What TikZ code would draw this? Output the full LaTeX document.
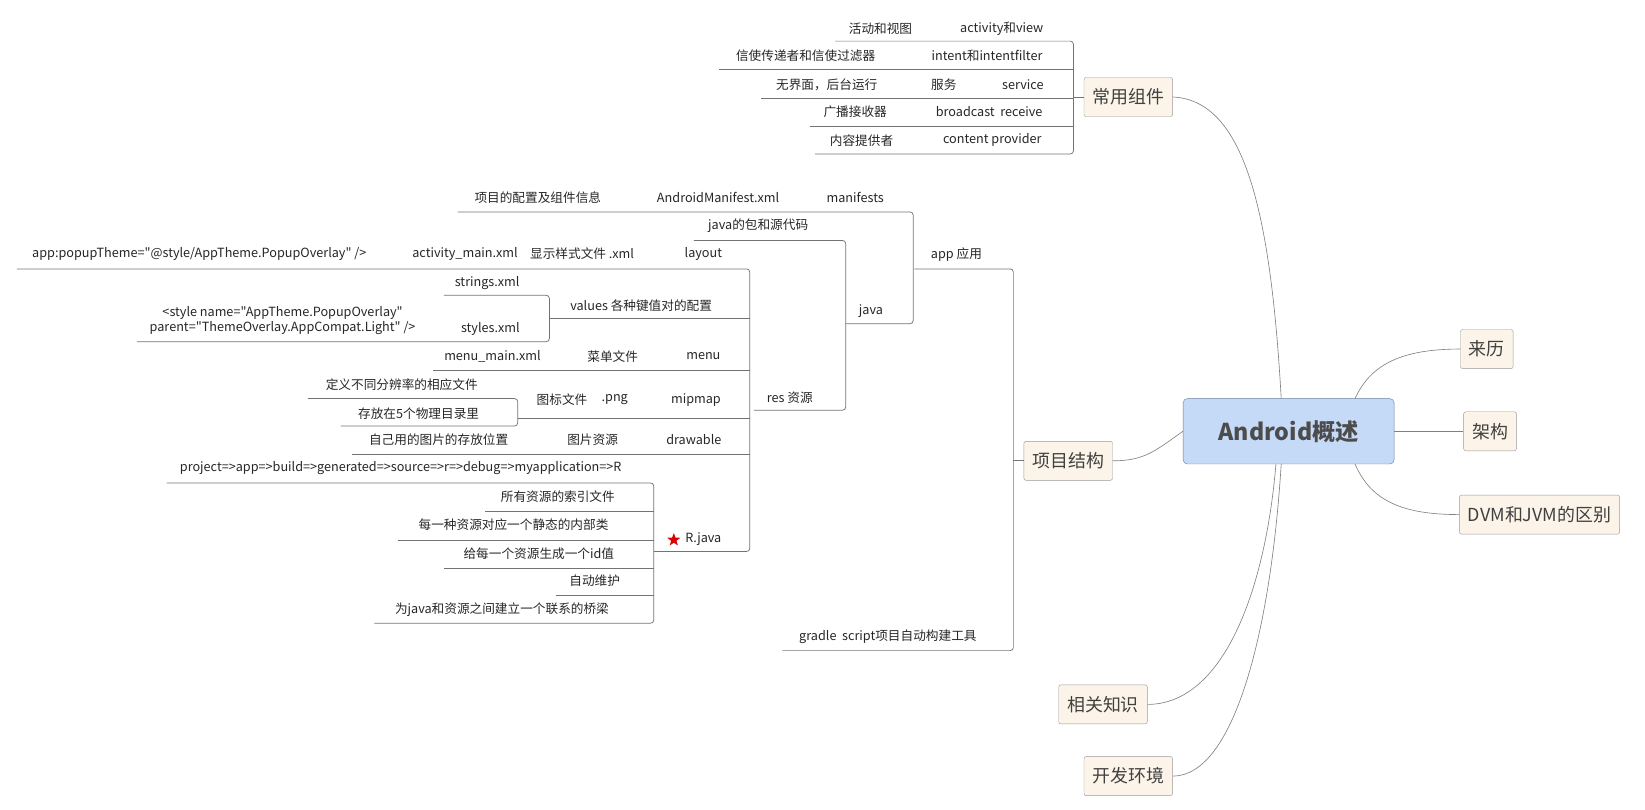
\documentclass[tikz,border=0pt]{standalone}
\usepackage{fontspec}
\setmainfont{Noto Sans CJK SC}[Ligatures=TeXOff]
\usetikzlibrary{shapes.geometric}
\definecolor{rootfill}{RGB}{197,218,247}
\definecolor{rootline}{RGB}{100,125,160}
\definecolor{topicfill}{RGB}{252,244,233}
\begin{document}
\begin{tikzpicture}[x=1pt,y=-1pt,
  ln/.style={draw=black!55,line width=0.7pt,rounded corners=3pt},
  t/.style={inner sep=0pt,font=\fontsize{12}{14}\selectfont,text=black!85},
  topic/.style={draw=black!40,fill=topicfill,rounded corners=2pt,minimum height=37pt,inner xsep=8pt,font=\fontsize{17}{20}\selectfont,text=black!75},
  cv/.style={draw=black!50,line width=0.6pt}]
\useasboundingbox (0,0) rectangle (1560,768);
% root
\node[draw=rootline,fill=rootfill,rounded corners=4pt,minimum width=200pt,minimum height=62pt,font=\fontsize{22}{26}\selectfont\bfseries,text=black!70] (root) at (1222,409) {Android概述};
\node[topic] (lai) at (1410,331) {来历};
\node[topic] (jia) at (1413,409) {架构};
\node[topic] (dvm) at (1460,488) {DVM和JVM的区别};
\node[topic] (cy) at (1070,92) {常用组件};
\node[topic] (xm) at (1013,437) {项目结构};
\node[topic] (xg) at (1046,668) {相关知识};
\node[topic] (kf) at (1070,736) {开发环境};
\draw[cv] (1285,378) .. controls (1300,345) and (1330,331) .. (lai.west);
\draw[cv] (root.east) -- (jia.west);
\draw[cv] (1285,440) .. controls (1300,475) and (1330,488) .. (dvm.west);
\draw[cv] (1215,378) .. controls (1205,200) and (1180,95) .. (cy.east);
\draw[cv] (root.west) .. controls (1095,428) and (1085,437) .. (xm.east);
\draw[cv] (1210,440) .. controls (1200,560) and (1160,668) .. (xg.east);
\draw[cv] (1215,440) .. controls (1205,600) and (1170,736) .. (kf.east);
% 常用组件
\draw[ln] (792,39) -- (1018,39) -- (1018,146) -- (773,146);
\draw[ln] (682,66) -- (1018,66);
\draw[ln] (722,93) -- (1018,93);
\draw[ln] (768,120) -- (1018,120);
\draw[ln] (1018,92) -- (cy.west);
\node[t] at (835,27) {活动和视图}; \node[t] at (950,27) {activity和view};
\node[t] at (764,53) {信使传递者和信使过滤器}; \node[t] at (936,53) {intent和intentfilter};
\node[t] at (784,80) {无界面，后台运行}; \node[t] at (895,80) {服务}; \node[t] at (970,80) {service};
\node[t] at (811,106) {广播接收器}; \node[t] at (938,106) {broadcast\ \ receive};
\node[t] at (817,133) {内容提供者}; \node[t] at (941,133) {content provider};
% 项目结构
\draw[ln] (867,255) -- (961,255) -- (961,617) -- (742,617);
\draw[ln] (961,437) -- (xm.west);
\node[t] at (907,241) {app 应用};
\node[t] at (842,604) {gradle\ \ script项目自动构建工具};
% app
\draw[ln] (434,201) -- (866,201) -- (866,307) -- (802,307);
\node[t] at (510,187) {项目的配置及组件信息}; \node[t] at (681,187) {AndroidManifest.xml}; \node[t] at (811,187) {manifests};
\node[t] at (826,295) {java};
% java
\draw[ln] (658,228) -- (802,228) -- (802,389) -- (715,389);
\node[t] at (719,214) {java的包和源代码};
\node[t] at (749,377) {res 资源};
% res
\draw[ln] (16,255) -- (711,255) -- (711,523) -- (620,523);
\draw[ln] (521,302) -- (711,302);
\draw[ln] (411,351) -- (711,351);
\draw[ln] (491,397) -- (711,397);
\draw[ln] (334,431) -- (711,431);
\node[t] at (189,241) {app:popupTheme="@style/AppTheme.PopupOverlay" />};
\node[t] at (441,241) {activity\_main.xml}; \node[t] at (552,241) {显示样式文件 .xml}; \node[t] at (667,241) {layout};
\node[t] at (608,290) {values 各种键值对的配置};
\draw[ln] (421,280) -- (521,280) -- (521,324) -- (130,324);
\node[t] at (462,268) {strings.xml}; \node[t] at (465,312) {styles.xml};
\node[t,align=center] at (268,304) {<style name="AppTheme.PopupOverlay"\\parent="ThemeOverlay.AppCompat.Light" />};
\node[t] at (467,338) {menu\_main.xml}; \node[t] at (581,338) {菜单文件}; \node[t] at (667,338) {menu};
\draw[ln] (292,378) -- (491,378) -- (491,404) -- (323,404);
\node[t] at (381,365) {定义不同分辨率的相应文件}; \node[t] at (397,392) {存放在5个物理目录里};
\node[t] at (533,379) {图标文件}; \node[t] at (583,379) {.png}; \node[t] at (660,379) {mipmap};
\node[t] at (416,417) {自己用的图片的存放位置}; \node[t] at (562,417) {图片资源}; \node[t] at (658,417) {drawable};
% R.java
\draw[ln] (158,458) -- (620,458) -- (620,591) -- (355,591);
\draw[ln] (460,485) -- (620,485);
\draw[ln] (377,512) -- (620,512);
\draw[ln] (421,539) -- (620,539);
\draw[ln] (527,565) -- (620,565);
\node[t] at (380,444) {project=>app=>build=>generated=>source=>r=>debug=>myapplication=>R};
\node[t] at (529,471) {所有资源的索引文件};
\node[t] at (487,498) {每一种资源对应一个静态的内部类};
\node[t] at (511,525) {给每一个资源生成一个id值};
\node[t] at (564,551) {自动维护};
\node[t] at (476,578) {为java和资源之间建立一个联系的桥梁};
\node[t] at (667,511) {R.java};
\node[star,star points=5,star point ratio=2.4,fill=red!85!black,inner sep=0pt,minimum size=13pt] (starR) at (639,512) {};
\end{tikzpicture}
\end{document}
